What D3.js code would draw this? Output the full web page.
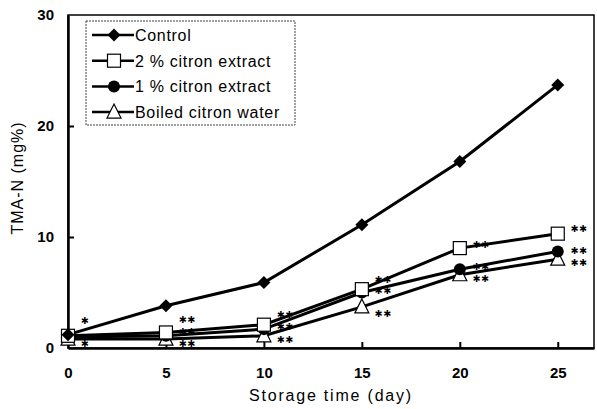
<!DOCTYPE html>
<html><head><meta charset="utf-8">
<script src="https://cdn.jsdelivr.net/npm/d3@7/dist/d3.min.js"></script>
<style>body{margin:0;background:#fff}svg{display:block}</style>
</head><body>
<svg id="c" width="597" height="409"></svg>
<script>
const days = [0, 5, 10, 15, 20, 25];
const seriesNames = ["Control", "2% citron extract", "1% citron extract", "Boiled citron water"];
const legendLabels = ["Control", "2 % citron extract", "1 % citron extract", "Boiled citron water"];
const control = [1.2, 3.8, 5.9, 11.1, 16.8, 23.7];
const citron2 = [1.1, 1.4, 2.1, 5.3, 9.0, 10.3];
const citron1 = [1.0, 1.1, 1.7, 5.0, 7.1, 8.7];
const boiled  = [0.8, 0.8, 1.1, 3.7, 6.6, 8.0];
const markers = ["diamond", "square", "circle", "triangle"];
const yTicks = [0, 10, 20, 30];
const xTicks = [0, 5, 10, 15, 20, 25];
// significance marks: [day, value, label]
const sigDay   = [0, 0, 5, 5, 5, 10, 10, 10, 15, 15, 15, 20, 20, 20, 25, 25, 25];
const sigValue = [2.5, 0.4, 2.6, 1.5, 0.4, 3.0, 1.9, 0.8, 6.2, 5.2, 3.1, 9.3, 7.3, 6.3, 10.8, 8.8, 7.7];
const sigLabel = ["✱", "✱", "✱✱", "✱✱", "✱✱", "✱✱", "✱✱", "✱✱", "✱✱", "✱✱", "✱✱", "✱✱", "✱✱", "✱✱", "✱✱", "✱✱", "✱✱"];

const allSeries = [control, citron2, citron1, boiled];
const svg = d3.select("#c");
const x = d3.scaleLinear().domain([0, 26.85]).range([68, 594]);
const y = d3.scaleLinear().domain([0, 30]).range([348, 15]);
const font = "'Liberation Sans', Arial, sans-serif";

// frame
svg.append("rect").attr("x", 68).attr("y", 15).attr("width", 526).attr("height", 333)
  .attr("fill", "none").attr("stroke", "#000").attr("stroke-width", 1.5);

// axes with inward ticks
const yAxis = d3.axisLeft(y).tickValues(yTicks).tickSizeInner(-6).tickSizeOuter(0).tickPadding(14);
const gy = svg.append("g").attr("transform", "translate(68,0)").call(yAxis);
const xAxis = d3.axisBottom(x).tickValues(xTicks).tickSizeInner(-6).tickSizeOuter(0).tickPadding(19);
const gx = svg.append("g").attr("transform", "translate(0,348)").call(xAxis);
[gy, gx].forEach(g => {
  g.select(".domain").attr("stroke-width", 2.5);
  g.selectAll(".tick line").attr("stroke-width", 2);
  g.selectAll("text").attr("font-family", font).attr("font-size", 15).attr("font-weight", "bold").attr("fill", "#000");
});
gy.selectAll(".tick").filter(d => d === 0 || d === 30).select("line").remove();
gx.selectAll(".tick").filter(d => d === 0).select("line").remove();

// axis titles
svg.append("text").attr("transform", "translate(23,178) rotate(-90)").attr("text-anchor", "middle")
  .attr("font-family", font).attr("font-size", 16).attr("letter-spacing", 1).text("TMA-N (mg%)");
svg.append("text").attr("x", 331).attr("y", 401).attr("text-anchor", "middle")
  .attr("font-family", font).attr("font-size", 16).attr("letter-spacing", 1.8).text("Storage time (day)");

function drawMarker(g, type, cx, cy) {
  if (type === "diamond") {
    g.append("rect").attr("x", -4.6).attr("y", -4.6).attr("width", 9.2).attr("height", 9.2)
      .attr("transform", `translate(${cx},${cy}) rotate(45)`).attr("fill", "#000");
  } else if (type === "square") {
    g.append("rect").attr("x", cx - 6.5).attr("y", cy - 6.5).attr("width", 13).attr("height", 13)
      .attr("fill", "#fff").attr("stroke", "#000").attr("stroke-width", 1.2);
  } else if (type === "circle") {
    g.append("circle").attr("cx", cx).attr("cy", cy).attr("r", 6).attr("fill", "#000");
  } else {
    g.append("path").attr("d", `M${cx},${cy - 8}L${cx + 7},${cy + 6}L${cx - 7},${cy + 6}Z`)
      .attr("fill", "#fff").attr("stroke", "#000").attr("stroke-width", 1.2);
  }
}

const line = d3.line().x((d, i) => x(days[i])).y(d => y(d));
[3, 2, 1, 0].forEach(si => {
  svg.append("path").datum(allSeries[si]).attr("d", line).attr("fill", "none")
    .attr("stroke", "#000").attr("stroke-width", 3);
});
[3, 2, 1, 0].forEach(si => {
  const g = svg.append("g");
  allSeries[si].forEach((v, i) => drawMarker(g, markers[si], x(days[i]), y(v)));
});

// significance marks
sigDay.forEach((d, i) => {
  svg.append("text").attr("x", x(d) + 13).attr("y", y(sigValue[i]))
    .attr("dominant-baseline", "central").attr("fill", "#000")
    .attr("font-family", "'DejaVu Sans', sans-serif").attr("font-size", 9.5)
    .attr("letter-spacing", 0.6).text(sigLabel[i]);
});

// legend
const lg = svg.append("g");
lg.append("rect").attr("x", 86).attr("y", 21).attr("width", 209).attr("height", 104)
  .attr("fill", "#fff").attr("stroke", "#444").attr("stroke-width", 1).attr("stroke-dasharray", "2,1");
seriesNames.forEach((n, i) => {
  const ly = 35 + i * 25.7;
  lg.append("line").attr("x1", 92).attr("x2", 134).attr("y1", ly).attr("y2", ly)
    .attr("stroke", "#000").attr("stroke-width", 2.5);
  drawMarker(lg, markers[i], 114, ly);
  lg.append("text").attr("x", 135).attr("y", ly + 6).attr("font-family", font)
    .attr("font-size", 16).attr("letter-spacing", 0.7).text(legendLabels[i]);
});
</script>
</body></html>
